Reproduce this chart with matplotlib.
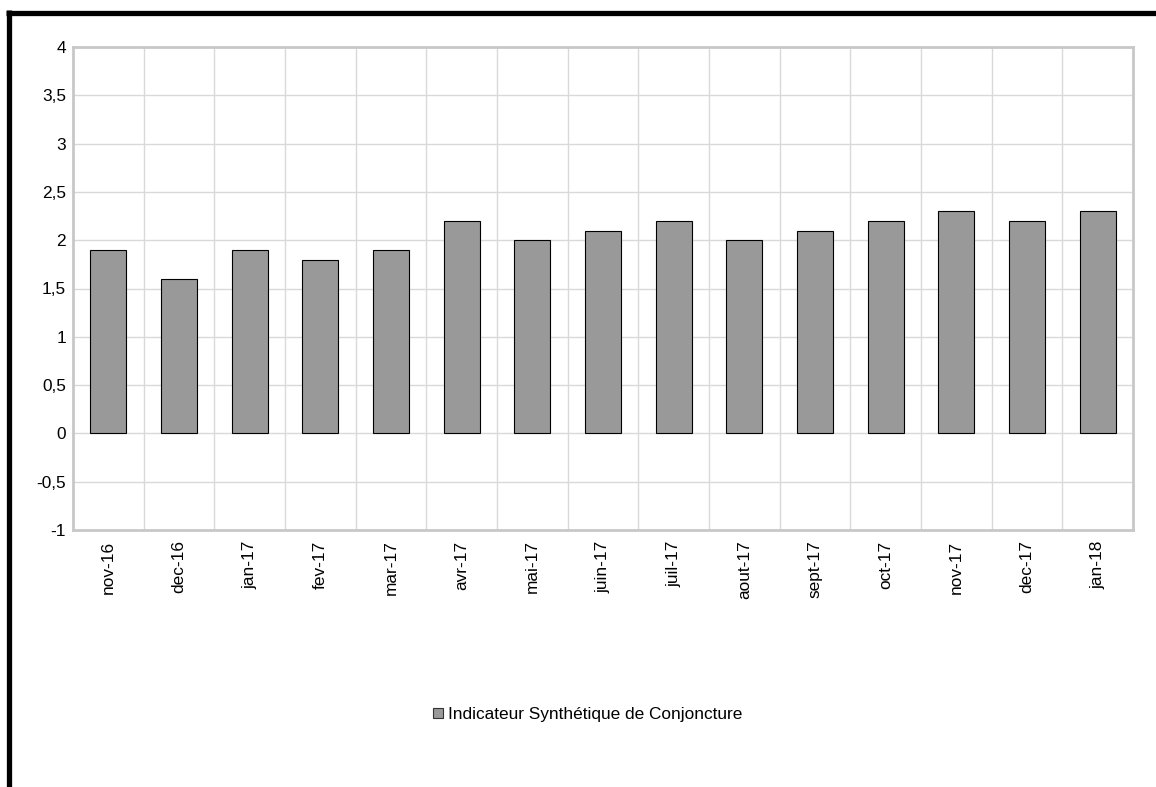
import matplotlib
matplotlib.use("Agg")
import matplotlib.pyplot as plt
from matplotlib.patches import Rectangle
from matplotlib.lines import Line2D

categories = ["nov-16", "dec-16", "jan-17", "fev-17", "mar-17", "avr-17", "mai-17",
              "juin-17", "juil-17", "aout-17", "sept-17", "oct-17", "nov-17", "dec-17", "jan-18"]
values = [1.9, 1.6, 1.9, 1.8, 1.9, 2.2, 2.0, 2.1, 2.2, 2.0, 2.1, 2.2, 2.3, 2.2, 2.3]
yticks = [-1, -0.5, 0, 0.5, 1, 1.5, 2, 2.5, 3, 3.5, 4]
ytick_labels = ["-1", "-0,5", "0", "0,5", "1", "1,5", "2", "2,5", "3", "3,5", "4"]
series_name = "Indicateur Synthétique de Conjoncture"

plt.rcParams['font.family'] = ['Liberation Sans', 'DejaVu Sans']
FS = 12.4
W, H = 1156, 787
fig = plt.figure(figsize=(W / 100, H / 100), dpi=100)
ax = fig.add_axes([73 / W, 1 - 530 / H, (1133 - 73) / W, (530 - 47) / H])

x = list(range(len(categories)))
ax.bar(x, values, width=0.51, color="#999999", edgecolor="black", linewidth=0.8,
       label=series_name, zorder=3)

ax.set_xlim(-0.5, len(categories) - 0.5)
ax.set_ylim(-1, 4)
ax.set_yticks(yticks)
ax.set_yticklabels(ytick_labels, fontsize=FS)
ax.set_xticks(x)
ax.set_xticklabels(categories, rotation=90, fontsize=FS, va="top")
ax.tick_params(axis="both", length=0)
ax.tick_params(axis="y", pad=5)
ax.tick_params(axis="x", pad=7.5)

for v in range(1, len(categories)):
    ax.axvline(v - 0.5, color="#d9d9d9", linewidth=1, zorder=1)
for t in yticks:
    ax.axhline(t, color="#d9d9d9", linewidth=1, zorder=1)
for s in ax.spines.values():
    s.set_color("#c8c8c8")
    s.set_linewidth(2)

# legend
fig.patches.append(Rectangle((432.5 / W, 1 - 718 / H), 10 / W, 10 / H, transform=fig.transFigure,
                             facecolor="#999999", edgecolor="#333333", linewidth=0.8))
fig.text(448 / W, 1 - 715 / H, series_name, fontsize=FS, va="center", ha="left")

# outer border (partial frame)
fig.lines.append(Line2D([8.5 / W, 8.5 / W], [0, 1 - 10 / H], transform=fig.transFigure,
                        color="black", linewidth=3.8, solid_capstyle="butt"))
fig.lines.append(Line2D([6 / W, 1], [1 - 12.5 / H, 1 - 12.5 / H], transform=fig.transFigure,
                        color="black", linewidth=3.8, solid_capstyle="butt"))

fig.savefig("out.png", dpi=100)
